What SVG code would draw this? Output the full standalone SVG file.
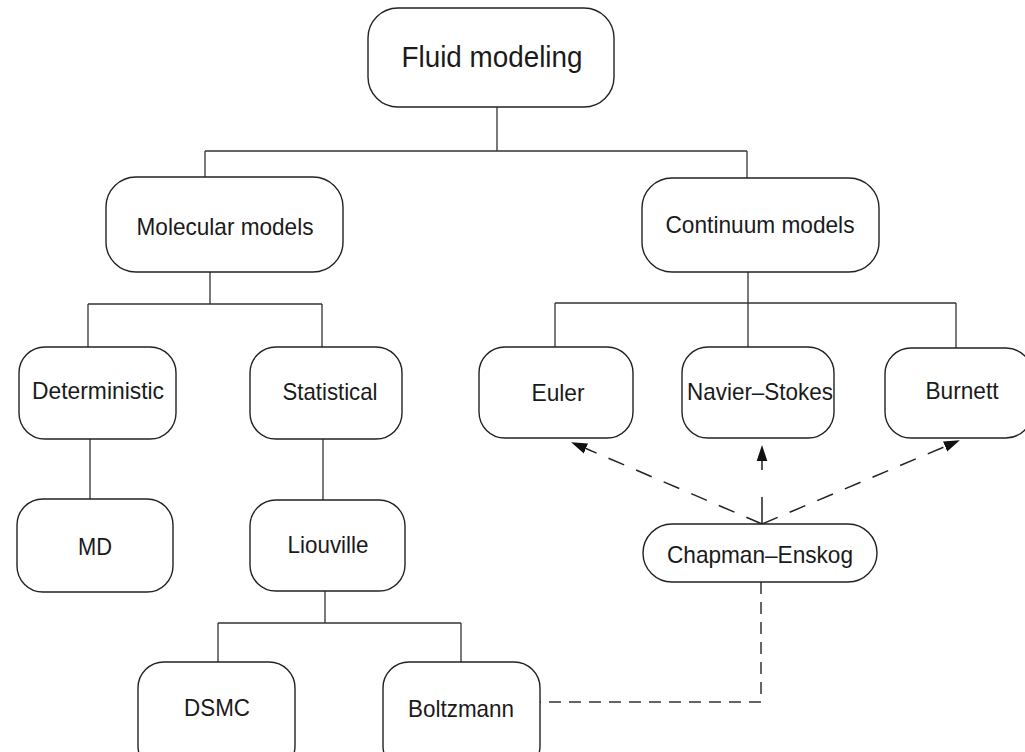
<svg xmlns="http://www.w3.org/2000/svg" width="1025" height="752" viewBox="0 0 1025 752">
<style>
.box{fill:#fff;stroke:#222;stroke-width:1.4}
.t{font-family:"Liberation Sans",Arial,sans-serif;font-size:24px;fill:#1a1a1a;text-anchor:middle}
.ln{fill:none;stroke:#333;stroke-width:1.3}
.dl{fill:none;stroke:#333;stroke-width:1.5;stroke-dasharray:12 8}
.da{fill:none;stroke:#222;stroke-width:1.5;stroke-dasharray:17 13}
</style>
<defs>
<marker id="ah" markerUnits="userSpaceOnUse" markerWidth="16" markerHeight="12" refX="0" refY="5" orient="auto" viewBox="0 0 15 10">
<path d="M0,0 L15,5 L0,10 Z" fill="#111"/>
</marker>
</defs>
<rect width="1025" height="752" fill="#fff"/>
<g id="connectors">
<path class="ln" d="M497,107 V151 M205,151 H747 M205,151 V177 M747,151 V178"/>
<path class="ln" d="M210,272 V304 M88,304 H322 M88,304 V347 M322,304 V347"/>
<path class="ln" d="M90,439 V499 M323,439 V500"/>
<path class="ln" d="M325,591 V623 M218,623 H461 M218,623 V662 M461,623 V662"/>
<path class="ln" d="M748,272 V303 M555,303 H956 M555,303 V347 M748,303 V347 M956,303 V348"/>
<path class="dl" d="M761,582 V702 H540"/>
<path class="da" d="M762,524 L585.9,448.5" marker-end="url(#ah)"/>
<path class="da" d="M762,524 L945.1,446.5" marker-end="url(#ah)"/>
<path class="da" style="stroke-dasharray:27 27" d="M762,524 L762,461" marker-end="url(#ah)"/>
</g>
<g id="fluid"><rect class="box" x="368" y="8" width="246" height="99" rx="30"/><text class="t" x="492" y="67" style="font-size:30px" textLength="181" lengthAdjust="spacingAndGlyphs">Fluid modeling</text></g>
<g id="molecular"><rect class="box" x="106" y="177" width="237" height="95" rx="30"/><text class="t" x="225" y="235" textLength="177" lengthAdjust="spacingAndGlyphs">Molecular models</text></g>
<g id="continuum"><rect class="box" x="642" y="178" width="237" height="94" rx="30"/><text class="t" x="760" y="233" textLength="189" lengthAdjust="spacingAndGlyphs">Continuum models</text></g>
<g id="deterministic"><rect class="box" x="19" y="347" width="157" height="92" rx="26"/><text class="t" x="98" y="399" textLength="132" lengthAdjust="spacingAndGlyphs">Deterministic</text></g>
<g id="statistical"><rect class="box" x="250" y="347" width="152" height="92" rx="26"/><text class="t" x="330" y="400" textLength="95" lengthAdjust="spacingAndGlyphs">Statistical</text></g>
<g id="md"><rect class="box" x="17" y="499" width="156" height="93" rx="26"/><text class="t" x="95" y="555" textLength="34" lengthAdjust="spacingAndGlyphs">MD</text></g>
<g id="liouville"><rect class="box" x="250" y="500" width="155" height="91" rx="26"/><text class="t" x="328" y="553" textLength="81" lengthAdjust="spacingAndGlyphs">Liouville</text></g>
<g id="dsmc"><rect class="box" x="138" y="662" width="157" height="110" rx="26"/><text class="t" x="217" y="716" textLength="66" lengthAdjust="spacingAndGlyphs">DSMC</text></g>
<g id="boltzmann"><rect class="box" x="383" y="662" width="157" height="110" rx="26"/><text class="t" x="461" y="717" textLength="106" lengthAdjust="spacingAndGlyphs">Boltzmann</text></g>
<g id="euler"><rect class="box" x="479" y="347" width="154" height="91" rx="26"/><text class="t" x="558" y="401" textLength="53" lengthAdjust="spacingAndGlyphs">Euler</text></g>
<g id="navier"><rect class="box" x="682" y="347" width="152" height="91" rx="26"/><text class="t" x="760" y="400" textLength="146" lengthAdjust="spacingAndGlyphs">Navier–Stokes</text></g>
<g id="burnett"><rect class="box" x="885" y="348" width="147" height="90" rx="26"/><text class="t" x="962" y="399" textLength="73" lengthAdjust="spacingAndGlyphs">Burnett</text></g>
<g id="chapman"><rect class="box" x="643" y="524" width="234" height="58" rx="29"/><text class="t" x="760" y="563" textLength="186" lengthAdjust="spacingAndGlyphs">Chapman–Enskog</text></g>
</svg>
